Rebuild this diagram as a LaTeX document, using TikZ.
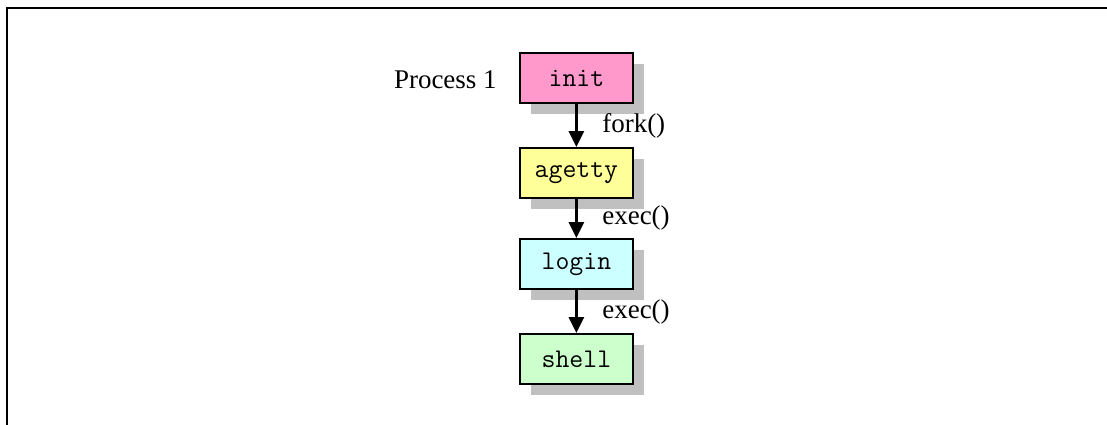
\documentclass[tikz,border=0pt]{standalone}
\usepackage{fontspec}
\setmainfont{Liberation Serif}
\usepackage{tikz}
\usetikzlibrary{arrows.meta,shadows}
\definecolor{initPink}{RGB}{255,153,204}
\definecolor{gettyYellow}{RGB}{255,255,153}
\definecolor{loginCyan}{RGB}{204,255,255}
\definecolor{shellGreen}{RGB}{204,255,204}
\definecolor{shadowGray}{RGB}{192,192,192}

\begin{document}
\begin{tikzpicture}[
        proc/.style={draw=black, line width=1.4pt, minimum width=2.825cm,
          minimum height=1.25cm, inner sep=0pt,
          font=\ttfamily\fontsize{19.2}{23}\selectfont,
          drop shadow={shadow xshift=0.275cm, shadow yshift=-0.275cm,
            fill=shadowGray, opacity=1}},
        lbl/.style={inner sep=0pt, font=\fontsize{19.2}{23}\selectfont},
        call/.style={-{Triangle[width=0.375cm,length=0.4cm]}, line width=2.1pt},
      ]
        \useasboundingbox (0,0) rectangle (27.675,-10.625);
        \draw[line width=1.4pt] (27.675,-0.2) -- (0.175,-0.2) -- (0.175,-10.625);

        \node[proc, fill=initPink] (init) at (14.41,-1.95) {init};
        \node[proc, fill=gettyYellow] (agetty) at (14.41,-4.325) {agetty};
        \node[proc, fill=loginCyan] (login) at (14.41,-6.6) {login};
        \node[proc, fill=shellGreen] (shell) at (14.41,-8.975) {shell};
        \node[lbl, anchor=east] (p1) at (12.425,-2.0) {Process 1};

        % Process chain
        \draw[call] (init) -- (agetty);
        \draw[call] (agetty) -- (login);
        \draw[call] (login) -- (shell);

        % Call labels
        \node[lbl, anchor=west] (fork) at (15.05,-3.15) {fork()};
        \node[lbl, anchor=west] (exec1) at (15.05,-5.45) {exec()};
        \node[lbl, anchor=west] (exec2) at (15.05,-7.8) {exec()};
      \end{tikzpicture}
\end{document}
